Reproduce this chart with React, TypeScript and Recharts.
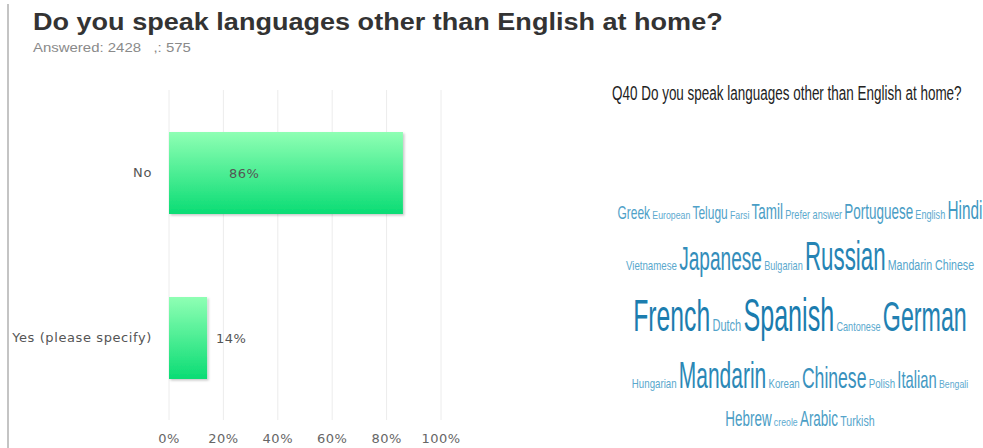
import React from 'react';
import { BarChart, Bar, XAxis, YAxis, CartesianGrid, LabelList } from 'recharts';

// ---------- data ----------
const categories = ['No', 'Yes (please specify)'];
const percentages = [86, 14];
const xTicks = [0, 20, 40, 60, 80, 100];

const titleText = 'Do you speak languages other than English at home?';
const answeredCount = 2428;
const skippedCount = 575;
const cloudTitle = 'Q40 Do you speak languages other than English at home?';

const cloudRow1Words = ['Greek', 'European', 'Telugu', 'Farsi', 'Tamil', 'Prefer answer', 'Portuguese', 'English', 'Hindi'];
const cloudRow1Weights = [20, 3, 20, 3, 28, 5, 28, 5, 38];
const cloudRow2Words = ['Vietnamese', 'Japanese', 'Bulgarian', 'Russian', 'Mandarin Chinese'];
const cloudRow2Weights = [8, 58, 5, 75, 13];
const cloudRow3Words = ['French', 'Dutch', 'Spanish', 'Cantonese', 'German'];
const cloudRow3Weights = [88, 15, 90, 5, 80];
const cloudRow4Words = ['Hungarian', 'Mandarin', 'Korean', 'Chinese', 'Polish', 'Italian', 'Bengali'];
const cloudRow4Weights = [8, 68, 8, 50, 8, 35, 3];
const cloudRow5Words = ['Hebrew', 'creole', 'Arabic', 'Turkish'];
const cloudRow5Weights = [28, 3, 28, 13];

// ---------- helpers ----------
const chartData = categories.map((c, i) => ({ category: c, value: percentages[i] }));

const cloudRows = [
  { words: cloudRow1Words, weights: cloudRow1Weights },
  { words: cloudRow2Words, weights: cloudRow2Weights },
  { words: cloudRow3Words, weights: cloudRow3Weights },
  { words: cloudRow4Words, weights: cloudRow4Weights },
  { words: cloudRow5Words, weights: cloudRow5Weights },
];

const ROW_BASELINES = [219, 270, 331, 388, 426];
const CLOUD_CENTER_X = 800;
const WORD_GAP = 2.2;
const CLOUD_FONT = 'Liberation Sans';
const AXIS_FONT = 'DejaVu Sans';

const fontSizeFor = (w: number) => 10 + w * 0.4;
const condense = (s: number) => 0.47 + 3.5 / s;
const colorFor = (w: number) => {
  const t = Math.min(1, w / 90);
  const a = [95, 172, 208];
  const b = [26, 124, 174];
  const c = a.map((v, i) => Math.round(v + (b[i] - v) * t));
  return `rgb(${c[0]},${c[1]},${c[2]})`;
};

let ctx: CanvasRenderingContext2D | null = null;
const measure = (text: string, size: number, weight = 'normal') => {
  if (!ctx && typeof document !== 'undefined') {
    ctx = document.createElement('canvas').getContext('2d');
  }
  if (!ctx) return text.length * size * 0.5;
  ctx.font = `${weight} ${size}px "${CLOUD_FONT}"`;
  return ctx.measureText(text).width;
};

// text squeezed/stretched horizontally to a target width
const FitText = ({ x, y, text, size, width, weight = 'normal', fill }: any) => {
  const natural = measure(text, size, weight);
  const sx = natural > 0 ? width / natural : 1;
  return (
    <text
      x={0}
      y={0}
      transform={`translate(${x},${y}) scale(${sx},1)`}
      fontSize={size}
      fontWeight={weight}
      fontFamily={CLOUD_FONT}
      fill={fill}
      style={{ whiteSpace: 'pre' }}
    >
      {text}
    </text>
  );
};

const WordCloud = () => {
  const items: React.ReactNode[] = [];
  cloudRows.forEach((row, r) => {
    const sizes = row.weights.map(fontSizeFor);
    const widths = row.words.map((w, i) => measure(w, sizes[i]) * condense(sizes[i]));
    const total = widths.reduce((a, b) => a + b, 0) + WORD_GAP * (row.words.length - 1);
    let x = CLOUD_CENTER_X - total / 2;
    row.words.forEach((w, i) => {
      items.push(
        <FitText
          key={`${r}-${i}`}
          x={x}
          y={ROW_BASELINES[r]}
          text={w}
          size={sizes[i]}
          width={widths[i]}
          fill={colorFor(row.weights[i])}
        />
      );
      x += widths[i] + WORD_GAP;
    });
  });
  return <g>{items}</g>;
};

const YTick = (props: any) => {
  const { x, y, payload } = props;
  return (
    <text x={x} y={y} dy="0.355em" textAnchor="end" fontSize={13} fontFamily={AXIS_FONT} fill="#555" letterSpacing={0.6}>
      {payload.value}
    </text>
  );
};

const XTick = (props: any) => {
  const { x, y, payload } = props;
  return (
    <text x={x} y={y} dy="0.71em" textAnchor="middle" fontSize={13} fontFamily={AXIS_FONT} fill="#666" letterSpacing={0.5}>
      {`${payload.value}%`}
    </text>
  );
};

const ValueLabel = (props: any) => {
  const { x, y, width, height, value } = props;
  const inside = value >= 50;
  const tx = inside ? x + 60 : x + width + 9;
  return (
    <text x={tx} y={y + height / 2} dy="0.355em" textAnchor="start" fontSize={13} fontFamily={AXIS_FONT} fill="#555" letterSpacing={0.5}>
      {`${value}%`}
    </text>
  );
};

export default function App() {
  return (
    <div style={{ position: 'absolute', left: 0, top: 0, width: 983, height: 448, background: '#fff', overflow: 'hidden' }}>
      <div style={{ position: 'absolute', left: 0, top: 0 }}>
        <BarChart
          width={480}
          height={448}
          data={chartData}
          layout="vertical"
          margin={{ top: 90, right: 39, bottom: 0, left: 0 }}
        >
          <defs>
            <linearGradient id="barGrad" x1="0" y1="0" x2="0" y2="1">
              <stop offset="0%" stopColor="#8fffb4" />
              <stop offset="100%" stopColor="#0adc74" />
            </linearGradient>
            <filter id="barShadow" x="-10%" y="-10%" width="130%" height="130%">
              <feDropShadow dx="1.5" dy="1.5" stdDeviation="1.2" floodColor="#000" floodOpacity="0.22" />
            </filter>
          </defs>
          <CartesianGrid horizontal={false} stroke="#ececec" />
          <XAxis
            type="number"
            domain={[0, 100]}
            ticks={xTicks}
            axisLine={false}
            tickLine={false}
            tickSize={0}
            tickMargin={14}
            height={28}
            tick={<XTick />}
            interval={0}
          />
          <YAxis
            type="category"
            dataKey="category"
            width={169}
            axisLine={false}
            tickLine={false}
            tickSize={0}
            tickMargin={17}
            tick={<YTick />}
            interval={0}
          />
          <Bar dataKey="value" barSize={82} fill="url(#barGrad)" filter="url(#barShadow)" isAnimationActive={false}>
            <LabelList dataKey="value" content={<ValueLabel />} />
          </Bar>
        </BarChart>
      </div>
      <svg width={983} height={448} style={{ position: 'absolute', left: 0, top: 0, pointerEvents: 'none' }}>
        <line x1={8} y1={4} x2={8} y2={448} stroke="#c4c4c4" strokeWidth={2} />
        <FitText x={33} y={30} text={titleText} size={24} weight="bold" width={690} fill="#333" />
        <FitText x={33} y={52} text={`Answered: ${answeredCount}   ,: ${skippedCount}`} size={12} width={158} fill="#8a8a8a" />
        <FitText x={612} y={100} text={cloudTitle} size={21} width={350} fill="#222" />
        <WordCloud />
      </svg>
    </div>
  );
}
